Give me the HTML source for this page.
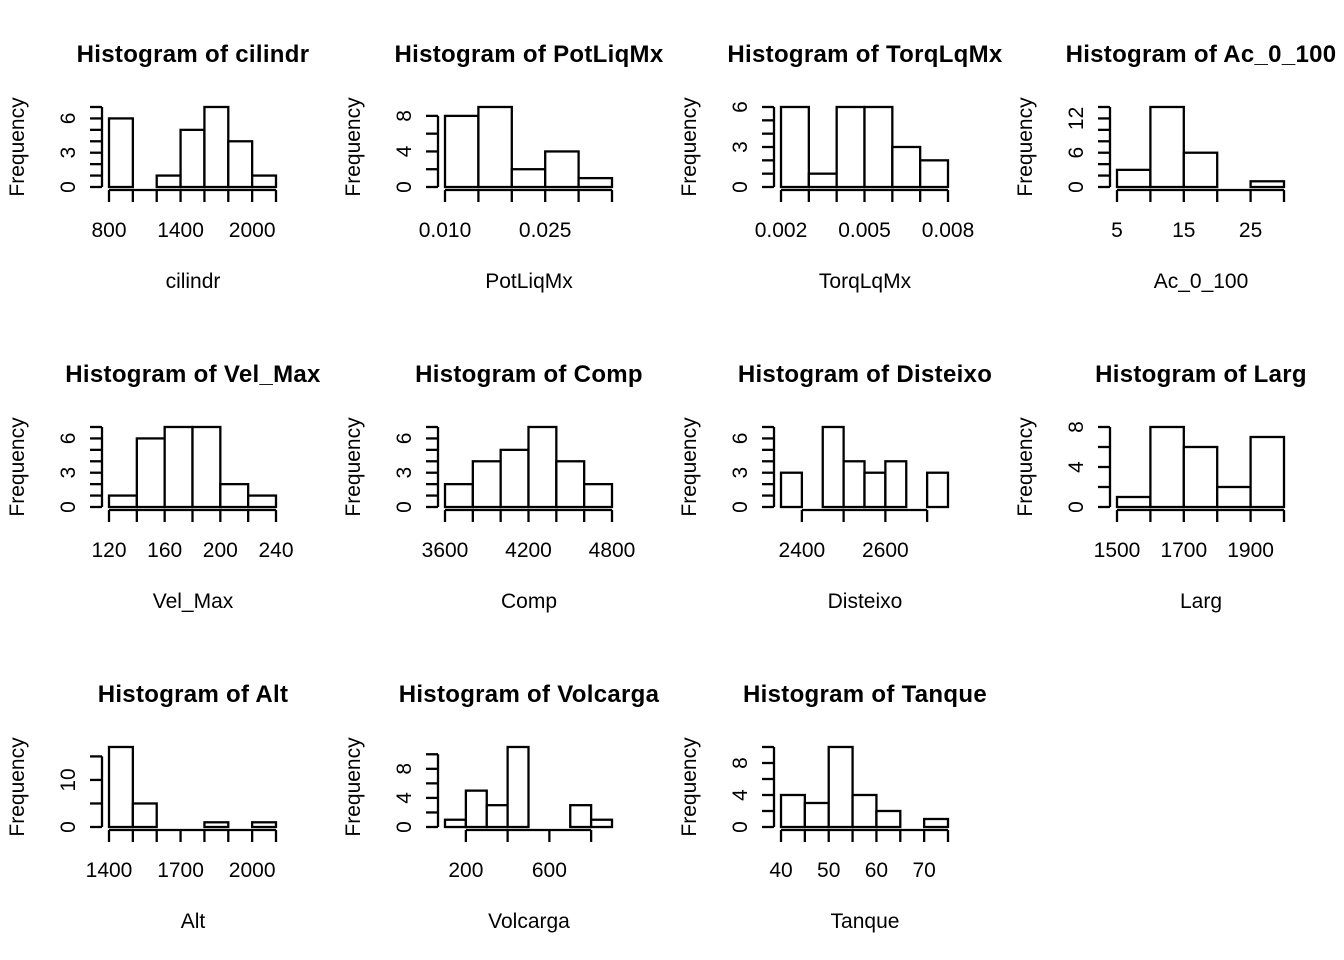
<!DOCTYPE html>
<html><head><meta charset="utf-8"><style>
html,body{margin:0;padding:0;background:#fff}
svg{display:block}
text{font-family:"Liberation Sans",Arial,sans-serif;fill:#000}
</style></head><body>
<svg id="chart" width="1344" height="960" viewBox="0 0 1344 960"></svg>
<script>
const names = ["cilindr","PotLiqMx","TorqLqMx","Ac_0_100","Vel_Max","Comp","Disteixo","Larg","Alt","Volcarga","Tanque"];
const breakStarts = [800,0.010,0.002,5,120,3600,2350,1500,1400,100,40];
const breakSteps = [200,0.005,0.001,5,20,200,50,100,100,100,5];
const counts = [
 [6,0,1,5,7,4,1],
 [8,9,2,4,1],
 [6,1,6,6,3,2],
 [3,14,6,0,1],
 [1,6,7,7,2,1],
 [2,4,5,7,4,2],
 [3,0,7,4,3,4,0,3],
 [1,8,6,2,7],
 [17,5,0,0,1,0,1],
 [1,5,3,11,0,0,3,1],
 [4,3,10,4,2,0,1]
];
const xTicks = [
 [800,1000,1200,1400,1600,1800,2000,2200],
 [0.010,0.015,0.020,0.025,0.030,0.035],
 [0.002,0.003,0.004,0.005,0.006,0.007,0.008],
 [5,10,15,20,25,30],
 [120,140,160,180,200,220,240],
 [3600,3800,4000,4200,4400,4600,4800],
 [2400,2500,2600,2700],
 [1500,1600,1700,1800,1900,2000],
 [1400,1500,1600,1700,1800,1900,2000,2100],
 [200,400,600,800],
 [40,45,50,55,60,65,70,75]
];
const xLabels = [
 ["800","1400","2000"],["0.010","0.025"],["0.002","0.005","0.008"],["5","15","25"],
 ["120","160","200","240"],["3600","4200","4800"],["2400","2600"],["1500","1700","1900"],
 ["1400","1700","2000"],["200","600"],["40","50","60","70"]
];
const yTickSteps = [1,2,1,2,1,1,1,2,5,2,2];
const yLabels = [[0,3,6],[0,4,8],[0,3,6],[0,6,12],[0,3,6],[0,3,6],[0,3,6],[0,4,8],[0,10],[0,4,8],[0,4,8]];

const svg = document.getElementById('chart');
const NS = 'http://www.w3.org/2000/svg';
function mk(tag, attrs, parent){const e=document.createElementNS(NS,tag);for(const k in attrs)e.setAttribute(k,attrs[k]);parent.appendChild(e);return e;}

names.forEach((nm,i)=>{
  const col=i%4,row=Math.floor(i/4);
  const ox=col*336, oy=row*320;
  const g=mk('g',{},svg);
  
  
  const c=counts[i], nb=c.length;
  const b0=breakStarts[i], st=breakSteps[i], bn=b0+st*nb;
  const maxC=Math.max(...c);
  const xs=v=>ox+109+(v-b0)/(bn-b0)*167;
  const ys=v=>oy+187-v/maxC*80;
  const t=mk('text',{x:ox+193,y:oy+62,'text-anchor':'middle','font-size':'24','font-weight':'bold','letter-spacing':'0.3'},g);
  t.textContent='Histogram of '+nm;
  
  
  c.forEach((v,j)=>{
    const x1=xs(b0+st*j),x2=xs(b0+st*(j+1));
    const r=mk('rect',{x:x1,y:ys(v),width:x2-x1,height:ys(0)-ys(v),fill:'#fff',stroke:'#000','stroke-width':2.3},g);
    
    
  });
  const xt=xTicks[i];
  const ax=mk('g',{},g);
  
  
  mk('line',{x1:xs(xt[0]),x2:xs(xt[xt.length-1]),y1:oy+190,y2:oy+190,stroke:'#000','stroke-width':2.3},ax);
  xt.forEach(v=>mk('line',{x1:xs(v),x2:xs(v),y1:oy+190,y2:oy+202,stroke:'#000','stroke-width':2.3},ax));
  xLabels[i].forEach(s=>{
    const tl=mk('text',{x:xs(parseFloat(s)),y:oy+237,'text-anchor':'middle','font-size':'21'},ax);
    tl.textContent=s;
    
    
  });
  const xl=mk('text',{x:ox+193,y:oy+288,'text-anchor':'middle','font-size':'21'},g);
  xl.textContent=nm;
  
  
  const ay=mk('g',{},g);
  
  
  const ys0=yTickSteps[i];
  const yMaxT=Math.floor(maxC/ys0)*ys0;
  mk('line',{x1:ox+102,x2:ox+102,y1:ys(0),y2:ys(yMaxT),stroke:'#000','stroke-width':2.3},ay);
  for(let v=0;v<=yMaxT+1e-9;v+=ys0) mk('line',{x1:ox+90,x2:ox+102,y1:ys(v),y2:ys(v),stroke:'#000','stroke-width':2.3},ay);
  yLabels[i].forEach(v=>{
    const yy=ys(v);
    const tl=mk('text',{x:ox+75,y:yy,'text-anchor':'middle','font-size':'21',transform:`rotate(-90 ${ox+75} ${yy})`},ay);
    tl.textContent=String(v);
    
    
  });
  const yl=mk('text',{x:ox+24,y:oy+147,'text-anchor':'middle','font-size':'21',transform:`rotate(-90 ${ox+24} ${oy+147})`},g);
  yl.textContent='Frequency';
  
  
});
</script>
</body></html>
